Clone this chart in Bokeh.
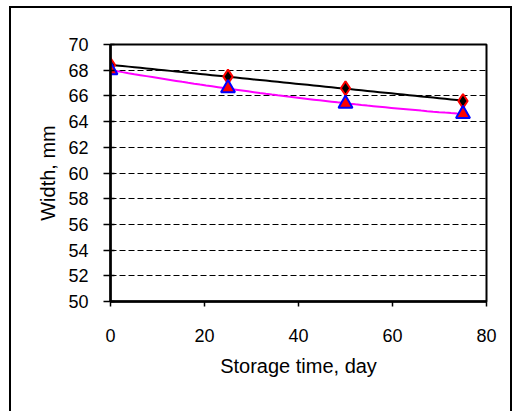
import numpy as np
from bokeh.plotting import figure
from bokeh.models import Range1d, FixedTicker
from bokeh.embed import file_html
from bokeh.resources import INLINE

# data
days = [0, 25, 50, 75]
width_a = [68.4, 67.5, 66.6, 65.6]
width_b = [68.0, 66.6, 65.4, 64.6]
x_ticks = [0, 20, 40, 60, 80]
y_ticks = [50, 52, 54, 56, 58, 60, 62, 64, 66, 68, 70]

FONT = "Liberation Sans"

p = figure(width=503, height=405, output_backend="svg", toolbar_location=None,
           x_range=Range1d(0, 80), y_range=Range1d(50, 70),
           min_border_left=99, min_border_right=28, min_border_top=36, min_border_bottom=112)
p.styles = {"border-left": "2px solid black", "border-top": "2px solid black",
            "border-right": "2px solid black", "box-sizing": "border-box",
            "margin-left": "9px", "margin-top": "6px"}

p.background_fill_color = "white"
p.border_fill_color = "white"
p.outline_line_color = "black"
p.outline_line_width = 2
p.outline_line_alpha = 1

# trend lines fitted from the data
xs = np.linspace(0, 75, 60)
ca = np.polyfit(days, width_a, 1)
cb = np.polyfit(days, width_b, 2)
p.line(xs, np.polyval(ca, xs), line_color="black", line_width=2)
p.line(xs, np.polyval(cb, xs), line_color="#ff00ff", line_width=2)

p.scatter(days, width_a, marker="diamond", size=14, fill_color="black",
          line_color="red", line_width=2)
p.scatter(days, width_b, marker="triangle", size=14, fill_color="red",
          line_color="blue", line_width=2)

p.xgrid.visible = False
p.ygrid.ticker = FixedTicker(ticks=y_ticks)
p.ygrid.grid_line_color = "black"
p.ygrid.grid_line_dash = "6 3"
p.ygrid.grid_line_width = 1

for ax in (p.xaxis[0], p.yaxis[0]):
    ax.axis_line_width = 2.5
    ax.axis_line_color = "black"
    ax.major_tick_line_color = "black"
    ax.major_tick_line_width = 1.5
    ax.minor_tick_line_color = None
    ax.major_label_text_font = FONT
    ax.major_label_text_font_size = "18px"
    ax.major_label_text_color = "black"
    ax.axis_label_text_font = FONT
    ax.axis_label_text_font_size = "20px"
    ax.axis_label_text_font_style = "normal"
    ax.axis_label_text_color = "black"

p.xaxis.ticker = FixedTicker(ticks=x_ticks)
p.xaxis.major_tick_out = 5
p.xaxis.major_tick_in = 0
p.xaxis.major_label_standoff = 22
p.xaxis.axis_label = "Storage time, day"
p.xaxis.axis_label_standoff = 10

p.yaxis.ticker = FixedTicker(ticks=y_ticks)
p.yaxis.major_tick_out = 7
p.yaxis.major_tick_in = 4
p.yaxis.major_label_standoff = 15
p.yaxis.axis_label = "Width, mm"
p.yaxis.axis_label_standoff = 6

open("out.html", "w").write(file_html(p, INLINE))
